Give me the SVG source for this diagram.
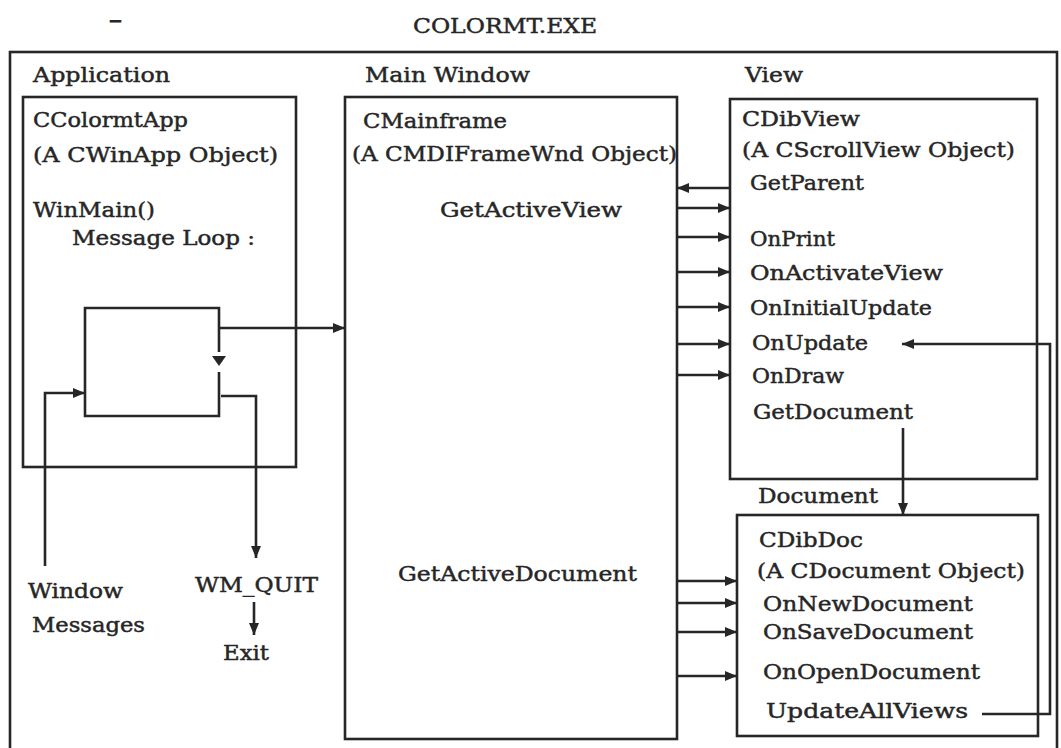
<svg xmlns="http://www.w3.org/2000/svg" width="1061" height="748" viewBox="0 0 1061 748">
<style>
.box{fill:none;stroke:#262626;stroke-width:2.6}
.t{font-family:"DejaVu Serif","Liberation Serif",serif;font-size:20px;fill:#262626;stroke:#262626;stroke-width:0.45}
.c{fill:none;stroke:#262626;stroke-width:2.6;marker-end:url(#ah)}
</style>
<defs>
<marker id="ah" markerUnits="userSpaceOnUse" markerWidth="12" markerHeight="12" viewBox="0 0 12 12" refX="12" refY="6" orient="auto">
<path d="M0,1 L12,6 L0,11 z" fill="#262626"/>
</marker>
</defs>
<rect width="1061" height="748" fill="#ffffff"/>
<g id="title">
<text class="t" x="109" y="27" textLength="13" lengthAdjust="spacingAndGlyphs" style="stroke-width:1">-</text>
<text class="t" x="413" y="33" textLength="184" lengthAdjust="spacingAndGlyphs">COLORMT.EXE</text>
</g>
<g id="frame">
<rect class="box" x="10" y="52" width="1047" height="702"/>
</g>
<g id="application">
<text class="t" x="33" y="82" textLength="137" lengthAdjust="spacingAndGlyphs">Application</text>
<rect class="box" x="23" y="97" width="273" height="370"/>
<text class="t" x="33" y="127" textLength="155" lengthAdjust="spacingAndGlyphs">CColormtApp</text>
<text class="t" x="33" y="162" textLength="245" lengthAdjust="spacingAndGlyphs">(A CWinApp Object)</text>
<text class="t" x="33" y="217" textLength="122" lengthAdjust="spacingAndGlyphs">WinMain()</text>
<text class="t" x="72" y="245" textLength="183" lengthAdjust="spacingAndGlyphs">Message Loop :</text>
</g>
<g id="message-loop">
<path class="box" d="M219,372 V416 H85 V308 H219 V352"/>
<path d="M212,356 L226,356 L219,366 z" fill="#262626"/>
</g>
<g id="window-messages">
<text class="t" x="28" y="598" textLength="95" lengthAdjust="spacingAndGlyphs">Window</text>
<text class="t" x="32" y="632" textLength="113" lengthAdjust="spacingAndGlyphs">Messages</text>
</g>
<g id="wm-quit">
<text class="t" x="195" y="592" textLength="123" lengthAdjust="spacingAndGlyphs">WM_QUIT</text>
</g>
<g id="exit">
<text class="t" x="223" y="660" textLength="46" lengthAdjust="spacingAndGlyphs">Exit</text>
</g>
<g id="main-window">
<text class="t" x="365" y="82" textLength="165" lengthAdjust="spacingAndGlyphs">Main Window</text>
<rect class="box" x="345" y="97" width="332" height="642"/>
<text class="t" x="363" y="128" textLength="144" lengthAdjust="spacingAndGlyphs">CMainframe</text>
<text class="t" x="352" y="161" textLength="325" lengthAdjust="spacingAndGlyphs">(A CMDIFrameWnd Object)</text>
<text class="t" x="440" y="217" textLength="182" lengthAdjust="spacingAndGlyphs">GetActiveView</text>
<text class="t" x="398" y="581" textLength="239" lengthAdjust="spacingAndGlyphs">GetActiveDocument</text>
</g>
<g id="view">
<text class="t" x="745" y="82" textLength="58" lengthAdjust="spacingAndGlyphs">View</text>
<rect class="box" x="730" y="99" width="307" height="380"/>
<text class="t" x="742" y="126" textLength="118" lengthAdjust="spacingAndGlyphs">CDibView</text>
<text class="t" x="742" y="157" textLength="273" lengthAdjust="spacingAndGlyphs">(A CScrollView Object)</text>
<text class="t" x="750" y="190" textLength="114" lengthAdjust="spacingAndGlyphs">GetParent</text>
<text class="t" x="750" y="246" textLength="85" lengthAdjust="spacingAndGlyphs">OnPrint</text>
<text class="t" x="750" y="280" textLength="193" lengthAdjust="spacingAndGlyphs">OnActivateView</text>
<text class="t" x="750" y="315" textLength="182" lengthAdjust="spacingAndGlyphs">OnInitialUpdate</text>
<text class="t" x="752" y="350" textLength="116" lengthAdjust="spacingAndGlyphs">OnUpdate</text>
<text class="t" x="752" y="383" textLength="92" lengthAdjust="spacingAndGlyphs">OnDraw</text>
<text class="t" x="753" y="419" textLength="160" lengthAdjust="spacingAndGlyphs">GetDocument</text>
</g>
<g id="document">
<text class="t" x="758" y="503" textLength="120" lengthAdjust="spacingAndGlyphs">Document</text>
<rect class="box" x="737" y="515" width="301" height="221"/>
<text class="t" x="759" y="547" textLength="104" lengthAdjust="spacingAndGlyphs">CDibDoc</text>
<text class="t" x="757" y="578" textLength="268" lengthAdjust="spacingAndGlyphs">(A CDocument Object)</text>
<text class="t" x="763" y="611" textLength="210" lengthAdjust="spacingAndGlyphs">OnNewDocument</text>
<text class="t" x="763" y="639" textLength="210" lengthAdjust="spacingAndGlyphs">OnSaveDocument</text>
<text class="t" x="763" y="679" textLength="217" lengthAdjust="spacingAndGlyphs">OnOpenDocument</text>
<text class="t" x="766" y="718" textLength="202" lengthAdjust="spacingAndGlyphs">UpdateAllViews</text>
</g>
<g id="connectors">
<path class="c" d="M219,328 H345"/>
<path class="c" d="M45,566 V393 H85"/>
<path class="c" d="M221,396 H256 V558"/>
<path class="c" d="M254,602 V635"/>
<path class="c" d="M730,188 H677"/>
<path class="c" d="M677,208 H730"/>
<path class="c" d="M677,237 H730"/>
<path class="c" d="M677,272 H730"/>
<path class="c" d="M677,307 H730"/>
<path class="c" d="M677,344 H730"/>
<path class="c" d="M677,375 H730"/>
<path class="c" d="M677,581 H737"/>
<path class="c" d="M677,603 H737"/>
<path class="c" d="M677,632 H737"/>
<path class="c" d="M677,676 H737"/>
<path class="c" d="M903,428 V515"/>
<path class="c" d="M982,714 H1050 V344 H902"/>
</g>
</svg>
